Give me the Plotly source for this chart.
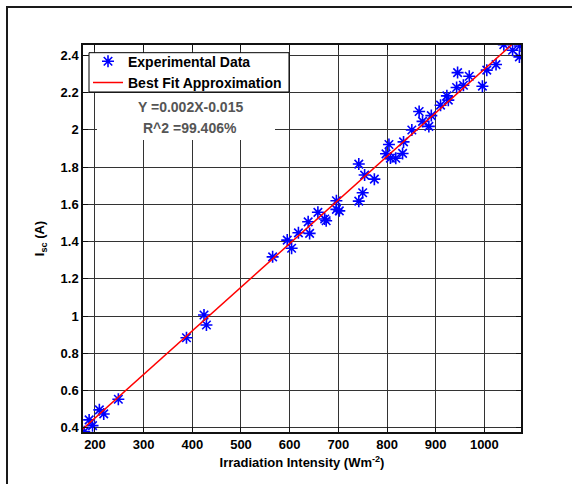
import plotly.graph_objects as go

# Measured short-circuit current versus irradiation intensity
irradiance = [178, 188, 195, 209, 218, 248, 388, 424, 429, 565, 595, 604, 618, 638,
              641, 658, 672, 675, 696, 696, 702, 742, 742, 750, 754, 774, 798, 804,
              807, 818, 832, 834, 851, 866, 873, 886, 891, 910, 923, 926, 943, 945,
              957, 969, 996, 1005, 1024, 1040, 1058, 1073, 1072]
isc = [0.380, 0.443, 0.412, 0.497, 0.475, 0.554, 0.884, 1.006, 0.952, 1.318, 1.408,
       1.364, 1.447, 1.506, 1.444, 1.557, 1.521, 1.512, 1.619, 1.573, 1.565, 1.816,
       1.617, 1.662, 1.757, 1.735, 1.871, 1.921, 1.848, 1.847, 1.873, 1.935, 1.999,
       2.098, 2.045, 2.018, 2.076, 2.132, 2.182, 2.159, 2.227, 2.307, 2.239, 2.287,
       2.234, 2.320, 2.350, 2.457, 2.427, 2.450, 2.391]

# Linear fit parameters
slope = 0.00234
intercept = -0.015
r_squared_pct = 99.406

x_ticks = [200, 300, 400, 500, 600, 700, 800, 900, 1000]
y_ticks = [0.4, 0.6, 0.8, 1.0, 1.2, 1.4, 1.6, 1.8, 2.0, 2.2, 2.4]
y_tick_labels = ["0.4", "0.6", "0.8", "1", "1.2", "1.4", "1.6", "1.8", "2", "2.2", "2.4"]

fit_x = [175, 1075]
fit_y = [slope * v + intercept for v in fit_x]

FONT = "Arial, 'Liberation Sans', sans-serif"

# plot area in pixels
L, R, T, B = 83, 51, 45, 52
W, H = 572, 484
PW, PH = W - L - R, H - T - B


def px_x(p):
    return (p - L) / PW


def px_y(p):
    return 1 - (p - T) / PH


fig = go.Figure()
fig.add_trace(go.Scatter(
    x=irradiance, y=isc, mode="markers", name="Experimental Data",
    marker=dict(symbol="asterisk-open", size=10, color="#0000ff",
                line=dict(color="#0000ff", width=1.6)),
))
fig.add_trace(go.Scatter(
    x=fit_x, y=fit_y, mode="lines", name="Best Fit Approximation",
    line=dict(color="#ff0000", width=1.5),
))

axis_common = dict(
    showline=True, linecolor="#111111", linewidth=1.5, mirror="allticks",
    ticks="inside", ticklen=5, tickcolor="#111111",
    showgrid=True, gridcolor="#333333", gridwidth=1, zeroline=False,
    tickfont=dict(family=FONT, size=13, color="#000000", weight="bold"),
)

fig.update_xaxes(
    range=[175.4, 1075.3], tickvals=x_ticks,
    title=dict(text="Irradiation Intensity (Wm<sup>-2</sup>)", standoff=7,
               font=dict(family=FONT, size=13, color="#000000", weight="bold")),
    **axis_common,
)
fig.update_yaxes(
    range=[0.378, 2.455], tickvals=y_ticks, ticktext=y_tick_labels,
    title=dict(text="I<sub>sc</sub> (A)", standoff=13,
               font=dict(family=FONT, size=13, color="#000000", weight="bold")),
    **axis_common,
)

eq_text = f"Y ={slope:.3f}X{intercept:+.3f}"
r2_text = f"R^2 ={r_squared_pct:.3f}%"

fig.update_layout(
    width=W, height=H,
    margin=dict(l=L, r=R, t=T, b=B),
    plot_bgcolor="#ffffff", paper_bgcolor="#ffffff",
    showlegend=True,
    legend=dict(
        x=px_x(88), y=px_y(45.6), xanchor="left", yanchor="top",
        bgcolor="rgba(0,0,0,0)", borderwidth=0,
        font=dict(family=FONT, size=14, color="#000000", weight="bold"),
        tracegroupgap=0,
    ),
    shapes=[
        # legend frame
        dict(type="rect", xref="paper", yref="paper", layer="above",
             x0=px_x(89), x1=px_x(289), y0=px_y(92), y1=px_y(52.7),
             fillcolor="#ffffff", line=dict(color="#000000", width=1)),
        # white panel behind the fit equation
        dict(type="rect", xref="paper", yref="paper", layer="above",
             x0=px_x(97), x1=px_x(275), y0=px_y(140), y1=px_y(93),
             fillcolor="#ffffff", line=dict(width=0)),
        # outer figure frame
        dict(type="rect", xref="paper", yref="paper",
             x0=px_x(7), x1=2.0, y0=-1.0, y1=px_y(7),
             line=dict(color="#1a1a1a", width=2), fillcolor="rgba(0,0,0,0)"),
    ],
    annotations=[
        dict(text=eq_text, xref="paper", yref="paper", x=px_x(190),
             y=px_y(107), showarrow=False, xanchor="center", yanchor="middle",
             font=dict(family=FONT, size=14, color="#555555", weight="bold")),
        dict(text=r2_text, xref="paper", yref="paper", x=px_x(190),
             y=px_y(128), showarrow=False, xanchor="center", yanchor="middle",
             font=dict(family=FONT, size=14, color="#555555", weight="bold")),
    ],
)

fig.write_html("out.html")
